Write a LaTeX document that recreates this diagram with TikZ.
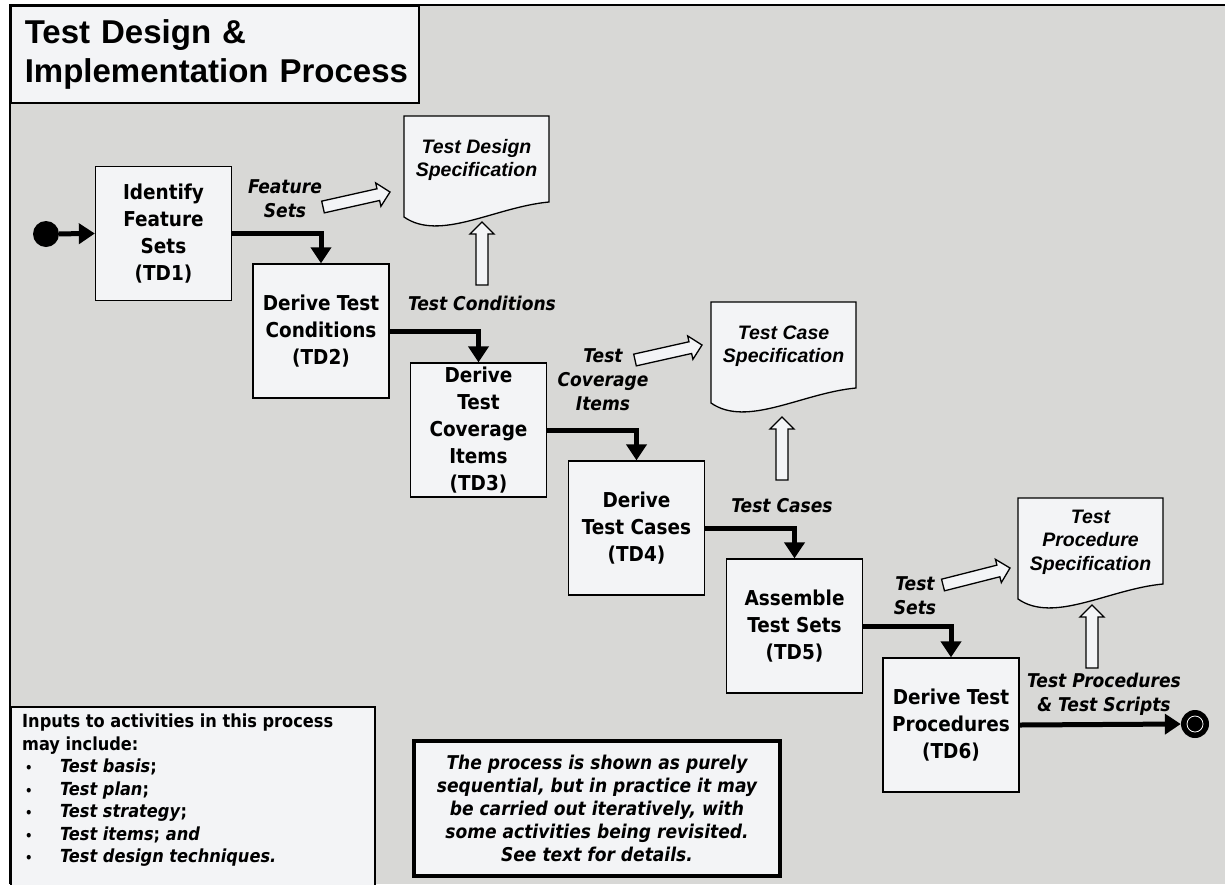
\documentclass[tikz,border=0pt]{standalone}
\usepackage{fontspec}
\setmainfont{DejaVu Sans Condensed}
\newfontfamily\titlefont{Liberation Sans}
\usetikzlibrary{arrows.meta,calc}

\definecolor{bggray}{RGB}{216,216,214}
\definecolor{boxfill}{RGB}{243,244,246}

% document symbol round a coordinate
\newcommand{\docshape}[1]{%
  \draw[docline] ($(#1)+(-72.5,-44)$) -- ($(#1)+(72.5,-44)$) -- ($(#1)+(72.5,42)$)
    .. controls ($(#1)+(18.5,47)$) and ($(#1)+(-36.5,82)$) .. ($(#1)+(-72.5,57)$) -- cycle;}
% hollow block arrow from #1 to #2
\newcommand{\hollowarrow}[2]{%
  \coordinate (#1h) at ($(#2)!12pt!(#1)$);
  \draw[hollow] ($(#1)!6pt!90:(#2)$) -- ($(#1h)!6pt!90:(#2)$) -- ($(#1h)!12pt!90:(#2)$)
    -- (#2) -- ($(#1h)!12pt!-90:(#2)$) -- ($(#1h)!6pt!-90:(#2)$) -- ($(#1)!6pt!-90:(#2)$) -- cycle;}
\newcommand{\inbullet}{\hspace*{3pt}\makebox[35pt][l]{\fontsize{13}{13}\selectfont\textbullet}}

\begin{document}
\begin{tikzpicture}[x=1pt, y=-1pt,
  activity/.style={rectangle, draw, line width=1.3pt, fill=boxfill,
    minimum width=136pt, minimum height=134pt, align=center, inner sep=1pt,
    font=\bfseries\fontsize{20.5}{27}\selectfont},
  flow/.style={line width=5pt, -{Triangle[width=20pt,length=16pt]}},
  hollow/.style={draw, line width=1.3pt, fill=boxfill, line join=miter},
  flowlabel/.style={align=center, font=\bfseries\itshape\fontsize{19}{24}\selectfont},
  docline/.style={draw, line width=1.3pt, fill=boxfill},
  doctext/.style={align=center, font=\titlefont\bfseries\itshape\fontsize{19.5}{23.5}\selectfont},
  titlebox/.style={draw, line width=1.5pt, fill=boxfill, text width=392pt, inner xsep=8pt,
    minimum height=97pt, align=left, font=\titlefont\bfseries\fontsize{33}{39}\selectfont},
  infobox/.style={draw, line width=1.5pt, fill=boxfill},
  notebox/.style={draw, line width=3.5pt, fill=boxfill, minimum width=366pt, minimum height=135pt,
    align=center, font=\bfseries\itshape\fontsize{19}{23}\selectfont}]
\useasboundingbox (0,0) rectangle (1225,884);
\fill[bggray] (10,5) rectangle (1225,884);
\draw[line width=1.5pt] (10,884) -- (10,5) -- (1225,5);

\node[titlebox, anchor=north west] (title) at (10,5)
  {\mbox{\hspace*{6pt}Test Design \&}\\\mbox{\hspace*{6pt}Implementation Process}};

% activities
\node[activity] (td1) at (163.5,233.5) {Identify\\Feature\\Sets\\(TD1)};
\node[activity] (td2) at (321,331) {Derive Test\\Conditions\\(TD2)};
\node[activity] (td3) at (478.5,430) {Derive\\Test\\Coverage\\Items\\(TD3)};
\node[activity] (td4) at (636.5,528) {Derive\\Test Cases\\(TD4)};
\node[activity] (td5) at (794.5,626) {Assemble\\Test Sets\\(TD5)};
\node[activity] (td6) at (951,725) {Derive Test\\Procedures\\(TD6)};

\node[circle, fill=black, minimum size=26pt, inner sep=0pt] (start) at (46,234) {};
\node[circle, fill=black, minimum size=28pt, inner sep=0pt] (finish) at (1195,724) {};
\draw[white, line width=0.8pt] (finish) circle (8);

\draw[flow] (start) -- (td1.west);
\draw[flow] (td1.east) -| (td2.north);
\draw[flow] (td2.east) -| (td3.north);
\draw[flow] (td3.east) -| (td4.north);
\draw[flow] (td4.east) -| (td5.north);
\draw[flow] (td5.east) -| (td6.north);
\draw[flow] (td6.east) -- (finish.west);

% specifications
\coordinate (tds) at (476.5,160);
\coordinate (tcs) at (783.5,346);
\coordinate (tps) at (1090.5,542);
\docshape{tds}
\docshape{tcs}
\docshape{tps}
\node[doctext] (tdstext) at (tds) {Test Design\\Specification};
\node[doctext] (tcstext) at (tcs) {Test Case\\Specification};
\node[doctext] (tpstext) at (tps) {Test\\Procedure\\Specification};

% outputs
\node[flowlabel] (fslabel) at (285,199) {Feature\\Sets};
\node[flowlabel] (tclabel) at (482,303) {Test Conditions};
\node[flowlabel] (cilabel) at (603,380) {Test\\Coverage\\Items};
\node[flowlabel] (cslabel) at (782,506) {Test Cases};
\node[flowlabel] (tslabel) at (915,596) {Test\\Sets};
\node[flowlabel] (tplabel) at (1104,694) {Test Procedures\\\& Test Scripts};

\coordinate (fs1) at (323,207);  \coordinate (fs2) at (390,192);
\coordinate (tc1) at (482,285);  \coordinate (tc2) at (482,222);
\coordinate (ci1) at (635,360);  \coordinate (ci2) at (702,345);
\coordinate (cs1) at (782,480);  \coordinate (cs2) at (782,417);
\coordinate (ts1) at (943,585);  \coordinate (ts2) at (1010,568);
\coordinate (tp1) at (1092,668); \coordinate (tp2) at (1092,605);
\hollowarrow{fs1}{fs2}
\hollowarrow{tc1}{tc2}
\hollowarrow{ci1}{ci2}
\hollowarrow{cs1}{cs2}
\hollowarrow{ts1}{ts2}
\hollowarrow{tp1}{tp2}

% notes
\node[infobox, anchor=north west, minimum width=364pt, minimum height=200pt] (inbox) at (10,706) {};
\node[anchor=north west, align=left, inner sep=0pt,
  font=\bfseries\fontsize{18}{22.5}\selectfont] (inputs) at ($(inbox.north west)+(12,8)$)
  {Inputs to activities in this process\\
   may include:\\
   \inbullet\textit{Test basis};\\
   \inbullet\textit{Test plan};\\
   \inbullet\textit{Test strategy};\\
   \inbullet\textit{Test items}; \textit{and}\\
   \inbullet\textit{Test design techniques.}};
\node[notebox] (note) at (597,808.5)
  {The process is shown as purely\\sequential, but in practice it may\\be carried out iteratively, with\\some activities being revisited.\\See text for details.};
\end{tikzpicture}
\end{document}
